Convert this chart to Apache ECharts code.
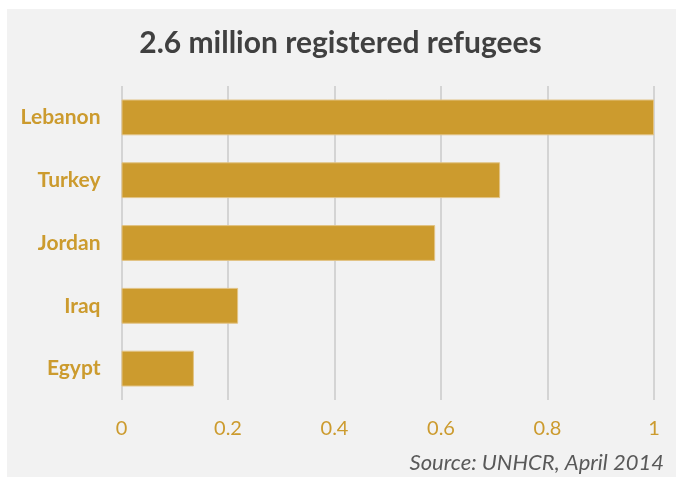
<!DOCTYPE html>
<html>
<head>
<meta charset="utf-8">
<script src="https://cdn.jsdelivr.net/npm/echarts@6/dist/echarts.min.js"></script>
<style>
  html, body { margin: 0; padding: 0; background: #ffffff; }
  #chart { width: 681px; height: 477px; }
</style>
</head>
<body>
<div id="chart"></div>
<script>
// refugees registered by country, millions
const countries = ['Lebanon', 'Turkey', 'Jordan', 'Iraq', 'Egypt'];
const refugees = [1.0, 0.711, 0.589, 0.219, 0.136];
const titleText = '2.6 million registered refugees';
const sourceText = 'Source: UNHCR, April 2014';

const gold = '#cc9b2e';
const font = 'Lato, "Open Sans", sans-serif';

const chart = echarts.init(document.getElementById('chart'));

chart.setOption({
  backgroundColor: '#ffffff',
  animation: false,
  title: {
    text: titleText,
    left: 'center',
    top: 23,
    padding: [5, 5, 5, 13],
    textStyle: { fontFamily: font, fontSize: 30, fontWeight: 'bold', color: '#404040' }
  },
  graphic: [
    {
      type: 'rect',
      z: -10,
      silent: true,
      shape: { x: 7, y: 9, width: 669, height: 468 },
      style: { fill: '#f2f2f2' }
    },
    {
      type: 'text',
      right: 17,
      top: 452,
      style: {
        text: sourceText,
        font: 'italic 22px ' + font,
        fill: '#595959'
      }
    }
  ],
  grid: { left: 121.5, right: 27, top: 86, bottom: 77 },
  xAxis: {
    type: 'value',
    min: 0,
    max: 1,
    interval: 0.2,
    axisLine: { show: false },
    axisTick: { show: false },
    splitLine: { lineStyle: { color: '#cacaca', width: 1.5 } },
    axisLabel: { color: gold, fontFamily: font, fontSize: 20, margin: 19 }
  },
  yAxis: {
    type: 'category',
    data: countries,
    inverse: true,
    axisLine: { show: false },
    axisTick: { show: false },
    axisLabel: { color: gold, fontFamily: font, fontSize: 21, fontWeight: 'bold', margin: 21 }
  },
  series: [{
    type: 'bar',
    data: refugees,
    barCategoryGap: '43%',
    itemStyle: { color: gold, borderColor: '#e2c384', borderWidth: 1 }
  }]
});
</script>
</body>
</html>
